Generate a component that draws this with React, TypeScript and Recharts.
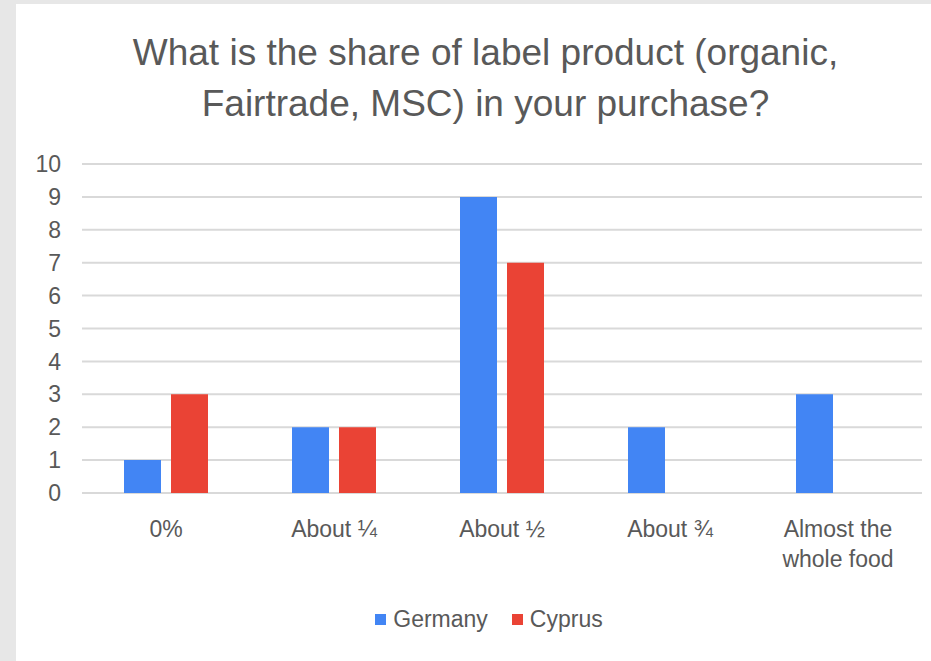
import { BarChart, Bar, XAxis, YAxis, CartesianGrid, Legend, Text } from 'recharts'

const categories = ['0%', 'About ¼', 'About ½', 'About ¾', 'Almost the whole food']
const seriesNames = ['Germany', 'Cyprus']
const germany = [1, 2, 9, 2, 3]
const cyprus = [3, 2, 7, 0, 0]
const yTicks = [0, 1, 2, 3, 4, 5, 6, 7, 8, 9, 10]

const FONT = '"Liberation Sans", Arial, sans-serif'
const TEXT = '#595959'

const data = categories.map((name, i) => ({ name, Germany: germany[i], Cyprus: cyprus[i] }))

function XTick({ x, y, payload }: any) {
  return (
    <Text
      x={x}
      y={y}
      width={116}
      textAnchor="middle"
      verticalAnchor="start"
      lineHeight={30}
      style={{ fontFamily: FONT, fontSize: 23 }}
      fill={TEXT}
    >
      {payload.value}
    </Text>
  )
}

function LegendContent({ payload }: any) {
  // keep series order, not alphabetical
  const items = [...(payload || [])].sort((a: any, b: any) => seriesNames.indexOf(a.value) - seriesNames.indexOf(b.value))
  return (
    <div style={{ display: 'flex', justifyContent: 'center', paddingLeft: 40, fontFamily: FONT, fontSize: 23, color: TEXT }}>
      {items.map((p: any) => (
        <div key={p.value} style={{ display: 'flex', alignItems: 'center', marginRight: 12, marginLeft: 12 }}>
          <span style={{ display: 'inline-block', width: 11, height: 11, background: p.color, marginRight: 7 }} />
          <span>{p.value}</span>
        </div>
      ))}
    </div>
  )
}

export default function App() {
  return (
    <div style={{ position: 'absolute', left: 0, top: 0, width: 931, height: 661, background: '#e7e7e7', overflow: 'hidden' }}>
      <div style={{ position: 'absolute', left: 16, top: 4, width: 915, height: 657, background: '#fff' }}>
        <div
          style={{
            position: 'absolute',
            left: 0,
            top: 23,
            width: 915,
            paddingLeft: 24,
            boxSizing: 'border-box',
            textAlign: 'center',
            fontFamily: FONT,
            fontSize: 37,
            lineHeight: '51px',
            color: TEXT,
          }}
        >
          What is the share of label product (organic,
          <br />
          Fairtrade, MSC) in your purchase?
        </div>
        <BarChart
          width={915}
          height={657}
          data={data}
          margin={{ top: 160, right: 9, left: 0, bottom: 28 }}
          barCategoryGap="25%"
          barGap={10}
        >
          <CartesianGrid vertical={false} stroke="#d9d9d9" strokeWidth={2} />
          <XAxis
            dataKey="name"
            axisLine={false}
            tickLine={false}
            tickSize={0}
            tickMargin={28}
            height={113}
            interval={0}
            tick={<XTick />}
          />
          <YAxis
            domain={[0, 10]}
            ticks={yTicks}
            interval={0}
            width={66}
            axisLine={false}
            tickLine={false}
            tickSize={0}
            tickMargin={21}
            tick={{ fill: TEXT, fontSize: 23, fontFamily: FONT }}
          />
          <Legend verticalAlign="bottom" content={<LegendContent />} />
          <Bar dataKey="Germany" fill="#4285f4" isAnimationActive={false} />
          <Bar dataKey="Cyprus" fill="#ea4335" isAnimationActive={false} />
        </BarChart>
      </div>
    </div>
  )
}
